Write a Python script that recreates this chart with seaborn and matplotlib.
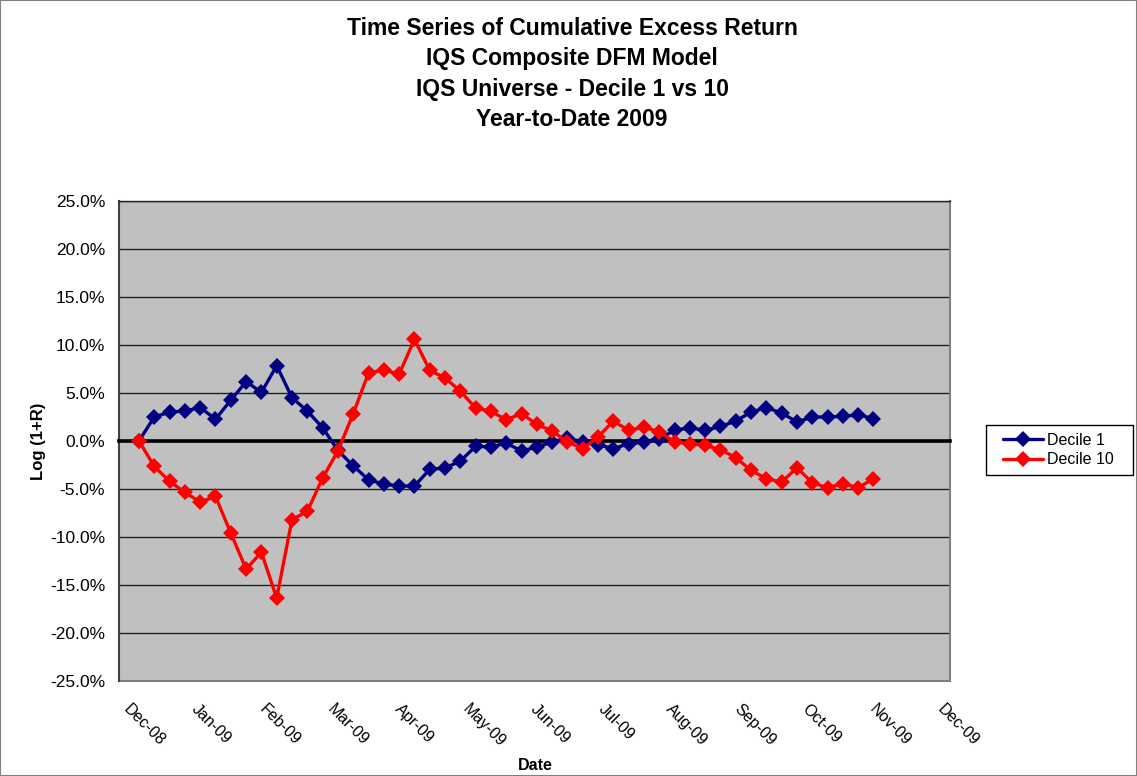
import matplotlib
matplotlib.use("Agg")
import matplotlib.pyplot as plt
from matplotlib.patches import Rectangle
from matplotlib.ticker import FuncFormatter, FixedLocator
from matplotlib.transforms import ScaledTranslation
import numpy as np
import pandas as pd
import seaborn as sns

# Weekly cumulative excess return, log(1+R), in percent
decile_1 = [0.0, 2.48, 3.0, 3.1, 3.46, 2.27, 4.22, 6.17, 5.05, 7.83,
            4.5, 3.1, 1.37, -1.0, -2.6, -4.05, -4.5, -4.7, -4.7, -2.97,
            -2.83, -2.1, -0.57, -0.64, -0.23, -1.06, -0.64, -0.12, 0.3, -0.12,
            -0.4, -0.81, -0.3, -0.12, 0.23, 1.09, 1.37, 1.09, 1.51, 2.06,
            3.0, 3.46, 2.9, 1.96, 2.48, 2.48, 2.55, 2.72, 2.31]
decile_10 = [0.0, -2.66, -4.22, -5.36, -6.37, -5.78, -9.6, -13.35, -11.6, -16.37,
             -8.2, -7.34, -3.87, -1.06, 2.83, 7.06, 7.38, 6.93, 10.57, 7.34,
             6.55, 5.16, 3.42, 3.07, 2.2, 2.83, 1.72, 1.02, -0.12, -0.81,
             0.4, 2.06, 1.09, 1.44, 0.92, -0.12, -0.3, -0.47, -0.92, -1.75,
             -3.07, -3.94, -4.29, -2.8, -4.36, -4.88, -4.46, -4.88, -3.94]
month_labels = ["Dec-08", "Jan-09", "Feb-09", "Mar-09", "Apr-09", "May-09", "Jun-09",
                "Jul-09", "Aug-09", "Sep-09", "Oct-09", "Nov-09", "Dec-09"]
series_names = ["Decile 1", "Decile 10"]
colors = ["#000080", "#FF0000"]

weeks = np.arange(len(decile_1))
df = pd.DataFrame({
    "week": np.concatenate([weeks, weeks]),
    "value": decile_1 + decile_10,
    "series": [series_names[0]] * len(decile_1) + [series_names[1]] * len(decile_10),
})

sns.set_style("white")
plt.rcParams["font.family"] = ["Liberation Sans", "DejaVu Sans"]
plt.rcParams.update({"text.color": "black", "axes.labelcolor": "black",
                     "xtick.color": "black", "ytick.color": "black"})

W, H = 1137, 776
fig = plt.figure(figsize=(W / 100, H / 100), dpi=100)
ax = fig.add_axes([119 / W, 1 - 681 / H, (950 - 119) / W, (681 - 200.7) / H])
ax.set_facecolor("#C0C0C0")

# month ticks evenly spaced on the weekly scale
tick_step = 4.429
tick_start = -1.306
tick_pos = [tick_start + i * tick_step for i in range(len(month_labels))]

ax.set_xlim(-1.306, 53.0)
ax.set_ylim(-25, 25)
ax.yaxis.set_major_locator(FixedLocator(np.arange(-25, 26, 5)))
ax.yaxis.set_major_formatter(FuncFormatter(lambda v, p: f"{v:.1f}%"))
ax.grid(axis="y", color="#202020", linewidth=1.0, zorder=1)
ax.set_axisbelow(True)

sns.lineplot(data=df, x="week", y="value", hue="series", palette=colors,
             marker="D", markersize=8.5, markeredgewidth=0, linewidth=2.4,
             ax=ax, zorder=4, legend=True)

# x axis drawn at zero with tick marks
ax.spines["bottom"].set_position(("data", 0))
ax.spines["bottom"].set_linewidth(2.6)
ax.spines["bottom"].set_color("black")
ax.spines["bottom"].set_zorder(3)
ax.set_xticks(tick_pos)
ax.tick_params(axis="x", direction="out", length=6, width=2, color="black",
               labelbottom=False)
ax.axhline(-25, color="#808080", linewidth=1.5, zorder=2, clip_on=False)

for s in ["top", "right"]:
    ax.spines[s].set_visible(True)
ax.spines["top"].set_color("#202020")
ax.spines["top"].set_linewidth(1.0)
ax.spines["right"].set_color("#808080")
ax.spines["right"].set_linewidth(1.5)
ax.spines["left"].set_color("#404040")
ax.spines["left"].set_linewidth(1.5)
ax.tick_params(axis="y", direction="out", length=6, width=1, color="black",
               labelsize=12.5, pad=4)

# month labels along the bottom edge, slanted down to the right
label_tf = ax.get_xaxis_transform() + ScaledTranslation(0.02, -0.31, fig.dpi_scale_trans)
for pos, lab in zip(tick_pos, month_labels):
    ax.text(pos, 0, lab, transform=label_tf, rotation=-45, rotation_mode="anchor",
            ha="left", va="bottom", fontsize=11.5, clip_on=False)

ax.set_xlabel("")
ax.set_ylabel("Log (1+R)", fontsize=12, fontweight="bold")
ax.yaxis.set_label_coords((46 - 119) / 831, 0.5)
fig.text(535 / W, 1 - 765 / H, "Date", ha="center", va="center",
         fontsize=11.5, fontweight="bold")

fig.text(572 / W, 1 - 74 / H,
         "Time Series of Cumulative Excess Return\nIQS Composite DFM Model\n"
         "IQS Universe - Decile 1 vs 10\nYear-to-Date 2009",
         ha="center", va="center", fontsize=16.5, fontweight="bold", linespacing=1.42)

# legend entries inside a fixed outlined box to the right of the plot
ax.add_patch(Rectangle((986 / W, 1 - 475 / H), (1133 - 986) / W, 50 / H,
                       transform=fig.transFigure, facecolor="white",
                       edgecolor="black", linewidth=1.0, zorder=5, clip_on=False))
leg = ax.legend(loc="center left", bbox_to_anchor=((1003 - 119) / 831, (681 - 450) / 480.3),
                frameon=False, fontsize=11.5, handlelength=2.5, handletextpad=0.25,
                borderpad=0.0, labelspacing=0.3, borderaxespad=0)
leg.set_zorder(6)

fig.patches.append(Rectangle((0, 0), 1, 1, transform=fig.transFigure, fill=False,
                             edgecolor="#808080", linewidth=1.5))

fig.savefig("out.png", dpi=100)
